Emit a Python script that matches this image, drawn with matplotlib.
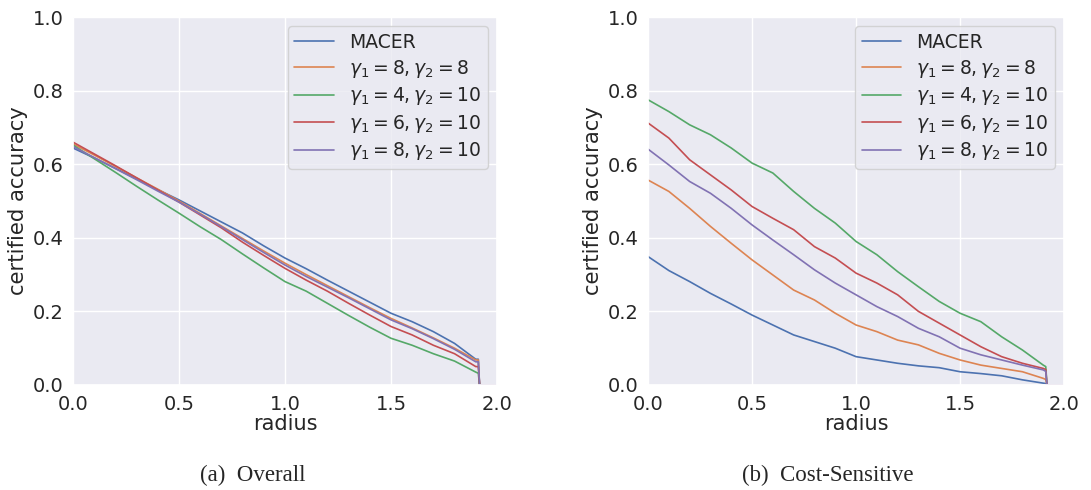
import numpy as np
import matplotlib
matplotlib.use("Agg")
import matplotlib.pyplot as plt
import seaborn as sns

sns.set_theme(style="darkgrid")
plt.rcParams["font.family"] = ["DejaVu Sans"]

labels = ["MACER", r"$\gamma_1=8,\gamma_2=8$", r"$\gamma_1=4,\gamma_2=10$",
          r"$\gamma_1=6,\gamma_2=10$", r"$\gamma_1=8,\gamma_2=10$"]

radius = [0.0, 0.1, 0.2, 0.3, 0.4, 0.5, 0.6, 0.7, 0.8, 0.9, 1.0,
          1.1, 1.2, 1.3, 1.4, 1.5, 1.6, 1.7, 1.8, 1.9, 1.912, 1.918, 2.0]

# (a) overall
overall_macer = [0.644, 0.617, 0.589, 0.560, 0.531, 0.503, 0.473, 0.443, 0.413, 0.378, 0.345,
                 0.316, 0.285, 0.255, 0.225, 0.195, 0.172, 0.145, 0.113, 0.070, 0.070, 0.0, 0.0]
overall_g88 = [0.655, 0.625, 0.594, 0.563, 0.532, 0.500, 0.466, 0.432, 0.398, 0.364, 0.331,
               0.300, 0.270, 0.240, 0.210, 0.181, 0.155, 0.128, 0.100, 0.068, 0.068, 0.0, 0.0]
overall_g410 = [0.652, 0.615, 0.578, 0.540, 0.503, 0.467, 0.430, 0.395, 0.356, 0.318, 0.281,
                0.255, 0.222, 0.189, 0.157, 0.127, 0.108, 0.085, 0.065, 0.035, 0.032, 0.0, 0.0]
overall_g610 = [0.660, 0.628, 0.596, 0.563, 0.530, 0.497, 0.462, 0.427, 0.388, 0.352, 0.317,
                0.285, 0.255, 0.222, 0.190, 0.159, 0.136, 0.108, 0.085, 0.050, 0.050, 0.0, 0.0]
overall_g810 = [0.648, 0.618, 0.588, 0.558, 0.527, 0.497, 0.464, 0.430, 0.395, 0.360, 0.326,
                0.295, 0.266, 0.237, 0.207, 0.177, 0.153, 0.126, 0.097, 0.063, 0.063, 0.0, 0.0]

# (b) cost-sensitive
cost_macer = [0.349, 0.311, 0.281, 0.249, 0.220, 0.190, 0.163, 0.136, 0.118, 0.100, 0.077,
              0.068, 0.059, 0.052, 0.047, 0.036, 0.031, 0.025, 0.014, 0.005, 0.004, 0.0, 0.0]
cost_g88 = [0.557, 0.526, 0.480, 0.431, 0.385, 0.340, 0.299, 0.258, 0.231, 0.195, 0.163,
            0.145, 0.122, 0.109, 0.086, 0.068, 0.054, 0.045, 0.036, 0.018, 0.015, 0.0, 0.0]
cost_g410 = [0.775, 0.743, 0.707, 0.680, 0.644, 0.603, 0.576, 0.526, 0.480, 0.440, 0.390,
             0.354, 0.308, 0.267, 0.227, 0.195, 0.172, 0.131, 0.095, 0.054, 0.050, 0.0, 0.0]
cost_g610 = [0.712, 0.671, 0.612, 0.571, 0.530, 0.485, 0.453, 0.422, 0.376, 0.345, 0.304,
             0.277, 0.245, 0.200, 0.168, 0.136, 0.104, 0.077, 0.059, 0.045, 0.042, 0.0, 0.0]
cost_g810 = [0.641, 0.598, 0.553, 0.521, 0.480, 0.435, 0.394, 0.354, 0.313, 0.277, 0.245,
             0.213, 0.186, 0.154, 0.131, 0.100, 0.082, 0.068, 0.054, 0.041, 0.037, 0.0, 0.0]

overall = [overall_macer, overall_g88, overall_g410, overall_g610, overall_g810]
cost = [cost_macer, cost_g88, cost_g410, cost_g610, cost_g810]

fig = plt.figure(figsize=(10.91, 4.90), dpi=100)
ax1 = fig.add_axes([0.0669, 0.2143, 0.3886, 0.751])
ax2 = fig.add_axes([0.594, 0.2143, 0.3813, 0.751])

panels = [(ax1, overall, "(a)  Overall", 0.232),
          (ax2, cost, "(b)  Cost-Sensitive", 0.759)]

for ax, series, caption, cx in panels:
    for vals, lab in zip(series, labels):
        ax.plot(radius, vals, lw=1.2, label=lab)
    ax.set_xlim(0, 2.0)
    ax.set_ylim(0, 1.0)
    ax.set_xticks([0.0, 0.5, 1.0, 1.5, 2.0])
    ax.set_yticks([0.0, 0.2, 0.4, 0.6, 0.8, 1.0])
    ax.tick_params(labelsize=14, pad=1)
    ax.set_xlabel("radius", fontsize=15, labelpad=0)
    ax.set_ylabel("certified accuracy", fontsize=15.2, labelpad=3)
    ax.legend(loc="upper right", fontsize=13.5, handlelength=2.1, handletextpad=0.8,
              borderpad=0.35, labelspacing=0.3)
    fig.text(cx, 0.008, caption, ha="center", va="bottom",
             fontsize=16.5, family="Liberation Serif")

fig.savefig("out.png", dpi=100)
